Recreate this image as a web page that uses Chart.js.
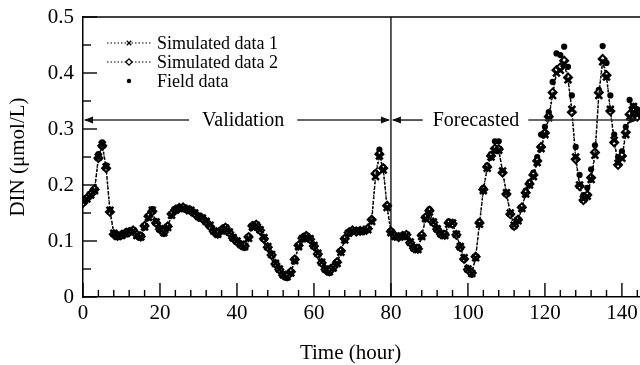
<!DOCTYPE html>
<html><head><meta charset="utf-8">
<script src="https://cdn.jsdelivr.net/npm/chart.js@4/dist/chart.umd.min.js"></script>
<style>html,body{margin:0;padding:0;background:#fff}#wrap{width:640px;height:365px}</style>
</head><body><div id="wrap"><canvas id="c" width="640" height="365"></canvas></div>
<script>
const hours = [0,1,2,3,4,5,6,7,8,9,10,11,12,13,14,15,16,17,18,19,20,21,22,23,24,25,26,27,28,29,30,31,32,33,34,35,36,37,38,39,40,41,42,43,44,45,46,47,48,49,50,51,52,53,54,55,56,57,58,59,60,61,62,63,64,65,66,67,68,69,70,71,72,73,74,75,76,77,78,79,80,81,82,83,84,85,86,87,88,89,90,91,92,93,94,95,96,97,98,99,100,101,102,103,104,105,106,107,108,109,110,111,112,113,114,115,116,117,118,119,120,121,122,123,124,125,126,127,128,129,130,131,132,133,134,135,136,137,138,139,140,141,142,143,144];
const sim1 = [
0.170,0.175,0.182,0.190,0.250,0.272,0.232,0.155,0.114,0.108,
0.110,0.113,0.117,0.118,0.110,0.107,0.125,0.142,0.155,0.134,
0.122,0.115,0.124,0.146,0.155,0.158,0.159,0.157,0.155,0.150,
0.144,0.141,0.135,0.128,0.118,0.112,0.118,0.123,0.116,0.106,
0.100,0.094,0.090,0.105,0.125,0.128,0.120,0.106,0.090,0.076,
0.060,0.050,0.040,0.036,0.043,0.065,0.090,0.104,0.108,0.104,
0.092,0.078,0.062,0.050,0.045,0.052,0.060,0.080,0.102,0.114,
0.118,0.118,0.117,0.118,0.120,0.135,0.215,0.252,0.227,0.160,
0.115,0.108,0.108,0.108,0.110,0.098,0.088,0.085,0.108,0.140,
0.152,0.134,0.122,0.113,0.110,0.130,0.132,0.112,0.090,0.070,
0.050,0.042,0.070,0.130,0.190,0.230,0.250,0.262,0.262,0.225,
0.186,0.150,0.128,0.136,0.158,0.184,0.200,0.215,0.240,0.265,
0.290,0.320,0.360,0.400,0.405,0.417,0.388,0.335,0.250,0.200,
0.175,0.180,0.210,0.253,0.360,0.420,0.393,0.335,0.280,0.239,
0.248,0.290,0.322,0.340,0.325];
const sim2 = [
0.168,0.176,0.183,0.192,0.248,0.270,0.230,0.152,0.112,0.109,
0.111,0.114,0.116,0.119,0.111,0.108,0.127,0.144,0.153,0.132,
0.121,0.116,0.126,0.148,0.156,0.159,0.160,0.156,0.154,0.149,
0.143,0.140,0.134,0.126,0.117,0.113,0.120,0.124,0.115,0.105,
0.099,0.093,0.091,0.107,0.127,0.129,0.119,0.104,0.089,0.075,
0.059,0.049,0.039,0.037,0.045,0.067,0.092,0.105,0.109,0.103,
0.091,0.077,0.061,0.049,0.046,0.053,0.062,0.082,0.104,0.115,
0.119,0.117,0.118,0.119,0.122,0.138,0.220,0.255,0.230,0.163,
0.117,0.109,0.107,0.109,0.111,0.097,0.087,0.086,0.110,0.142,
0.154,0.133,0.121,0.112,0.111,0.132,0.131,0.111,0.089,0.068,
0.049,0.043,0.072,0.132,0.192,0.232,0.252,0.265,0.264,0.222,
0.184,0.148,0.127,0.138,0.160,0.186,0.202,0.218,0.243,0.268,
0.293,0.322,0.365,0.405,0.410,0.422,0.392,0.330,0.246,0.198,
0.173,0.182,0.213,0.258,0.365,0.425,0.396,0.332,0.276,0.236,
0.252,0.294,0.326,0.338,0.322];
const field = [
0.172,0.176,0.185,0.193,0.255,0.276,0.235,0.156,0.113,0.110,
0.112,0.112,0.118,0.120,0.109,0.106,0.126,0.145,0.157,0.135,
0.121,0.113,0.125,0.148,0.157,0.160,0.161,0.158,0.156,0.151,
0.145,0.142,0.134,0.127,0.117,0.111,0.119,0.125,0.117,0.105,
0.099,0.092,0.088,0.106,0.127,0.130,0.121,0.105,0.089,0.074,
0.058,0.048,0.038,0.034,0.042,0.066,0.092,0.106,0.110,0.105,
0.091,0.076,0.060,0.048,0.043,0.051,0.061,0.082,0.104,0.116,
0.119,0.119,0.118,0.119,0.122,0.137,0.222,0.263,0.232,0.163,
0.116,0.107,0.109,0.107,0.111,0.097,0.086,0.084,0.110,0.143,
0.157,0.133,0.121,0.112,0.109,0.135,0.133,0.111,0.088,0.069,
0.048,0.040,0.072,0.135,0.195,0.235,0.255,0.278,0.278,0.222,
0.185,0.148,0.125,0.138,0.160,0.190,0.205,0.222,0.250,0.290,
0.304,0.330,0.384,0.435,0.432,0.447,0.411,0.360,0.268,0.218,
0.182,0.195,0.228,0.271,0.370,0.448,0.418,0.360,0.290,0.250,
0.260,0.304,0.352,0.340,0.335];
const xTicks = [0,20,40,60,80,100,120,140];
const yTicks = [0,0.1,0.2,0.3,0.4,0.5];
const seriesNames = ['Simulated data 1','Simulated data 2','Field data'];
const phaseNames = ['Validation','Forecasted'];
const phaseSplit = 80;
const xTitle = 'Time (hour)';
const yTitle = 'DIN (\u03bcmol/L)';

const SERIF = '"Liberation Serif","DejaVu Serif",serif';
const pts = arr => hours.map((h,i)=>({x:h,y:arr[i]}));

const styles = [
  {pointStyle:'crossRot', radius:4.8, dash:[3,2], bg:'#000', border:'#000', lineW:1.4, pW:2.5},
  {pointStyle:'rectRot', radius:4.0, dash:[1.2,1.8], bg:'#fff', border:'#000', lineW:1.3, pW:2.0},
  {pointStyle:'circle', radius:3.1, dash:[], bg:'#000', border:'#000', lineW:0, pW:0}
];

const decor = {
  id:'decor',
  afterDraw(chart){
    const ctx = chart.ctx, xs = chart.scales.x, ys = chart.scales.y, a = chart.chartArea;
    ctx.save();
    ctx.strokeStyle = '#000';
    ctx.lineWidth = 1.5;
    ctx.beginPath(); ctx.moveTo(a.left, a.top); ctx.lineTo(a.right, a.top); ctx.stroke();
    const xs80 = xs.getPixelForValue(phaseSplit);
    ctx.lineWidth = 1.3;
    ctx.beginPath(); ctx.moveTo(xs80, a.bottom); ctx.lineTo(xs80, a.top); ctx.stroke();
    ctx.lineWidth = 1.4;
    for (let v = 0; v <= 144; v += 4) {
      const px = xs.getPixelForValue(v);
      const len = (v % 20 === 0) ? 14 : 7;
      ctx.beginPath(); ctx.moveTo(px, a.bottom); ctx.lineTo(px, a.bottom - len); ctx.stroke();
    }
    for (let k = 0; k <= 10; k++) {
      const py = ys.getPixelForValue(k * 0.05);
      const len = (k % 2 === 0) ? 14 : 8;
      ctx.beginPath(); ctx.moveTo(a.left, py); ctx.lineTo(a.left + len, py); ctx.stroke();
    }
    const ay = ys.getPixelForValue(0.316);
    ctx.font = '20px ' + SERIF;
    ctx.fillStyle = '#000';
    ctx.textAlign = 'center'; ctx.textBaseline = 'middle';
    const arrowHead = (x, dir) => {
      ctx.beginPath(); ctx.moveTo(x, ay); ctx.lineTo(x + dir*9, ay - 3.5); ctx.lineTo(x + dir*9, ay + 3.5); ctx.closePath(); ctx.fill();
    };
    const seg = (x1, x2) => { ctx.beginPath(); ctx.moveTo(x1, ay); ctx.lineTo(x2, ay); ctx.stroke(); };
    ctx.strokeStyle = '#333'; ctx.lineWidth = 1.6;
    const vc = xs.getPixelForValue(41.6);
    const vw = ctx.measureText(phaseNames[0]).width;
    ctx.fillText(phaseNames[0], vc, ay + 1);
    seg(a.left + 2, vc - vw/2 - 13); seg(vc + vw/2 + 13, xs80 - 2);
    ctx.fillStyle = '#111';
    arrowHead(a.left + 1, 1); arrowHead(xs80 - 1, -1);
    ctx.fillStyle = '#000';
    const fc = xs.getPixelForValue(102.1);
    const fw = ctx.measureText(phaseNames[1]).width;
    ctx.fillText(phaseNames[1], fc, ay + 1);
    seg(xs80 + 2, fc - fw/2 - 10); seg(fc + fw/2 + 9, a.right - 3);
    ctx.fillStyle = '#111';
    arrowHead(xs80 + 1, 1); arrowHead(a.right - 2, -1);
    ctx.fillStyle = '#000';
    ctx.font = '18px ' + SERIF;
    ctx.textAlign = 'left';
    const rows = [43, 62, 81];
    for (let i = 0; i < 3; i++) {
      const st = styles[i], y = rows[i];
      if (i < 2) {
        ctx.save(); ctx.strokeStyle = '#000'; ctx.lineWidth = 1.2; ctx.setLineDash([1.5,2]);
        ctx.beginPath(); ctx.moveTo(107, y); ctx.lineTo(152, y); ctx.stroke(); ctx.restore();
      }
      ctx.save();
      ctx.fillStyle = st.bg; ctx.strokeStyle = st.border; ctx.lineWidth = i===2 ? 1 : 1.3;
      Chart.helpers.drawPoint(ctx, {pointStyle: st.pointStyle, radius: i===2 ? 2.2 : 3.2, rotation: 0, borderWidth: i===2?0:1.3}, 129, y);
      ctx.restore();
      ctx.fillStyle = '#000';
      ctx.fillText(seriesNames[i], 157, y + 1);
    }
    ctx.font = '21px ' + SERIF;
    ctx.textAlign = 'center';
    ctx.fillText(xTitle, xs.getPixelForValue(69.5), 353);
    ctx.save();
    ctx.translate(18, (a.top + a.bottom)/2);
    ctx.rotate(-Math.PI/2);
    ctx.fillText(yTitle, 0, 0);
    ctx.restore();
    ctx.restore();
  }
};

const datasets = [sim1, sim2, field].map((arr, i) => {
  const st = styles[i];
  return {
    label: seriesNames[i],
    data: pts(arr),
    borderColor: '#000',
    backgroundColor: st.bg,
    borderWidth: st.lineW,
    borderDash: st.dash,
    showLine: i < 2,
    pointStyle: st.pointStyle,
    pointRadius: st.radius,
    pointBackgroundColor: st.bg,
    pointBorderColor: st.border,
    pointBorderWidth: st.pW,
    tension: 0,
    fill: false
  };
});

new Chart(document.getElementById('c'), {
  type: 'line',
  data: { datasets },
  options: {
    responsive: false,
    animation: false,
    devicePixelRatio: 1,
    layout: { autoPadding: false, padding: { top: 17, right: 0, left: 0, bottom: 0 } },
    plugins: { legend: { display: false }, tooltip: { enabled: false } },
    scales: {
      x: {
        type: 'linear', min: 0, max: 144.7,
        afterBuildTicks: s => { s.ticks = xTicks.map(v => ({ value: v })); },
        afterFit: s => { s.height = 68; s.paddingRight = 0; s.paddingLeft = 0; },
        ticks: { color: '#000', font: { family: SERIF, size: 21 }, padding: 4, maxRotation: 0, autoSkip: false },
        grid: { display: true, drawOnChartArea: false, drawTicks: false },
        border: { color: '#000', width: 1.5 }
      },
      y: {
        type: 'linear', min: 0, max: 0.5,
        afterBuildTicks: s => { s.ticks = yTicks.map(v => ({ value: v })); },
        afterFit: s => { s.width = 83; s.paddingTop = 0; s.paddingBottom = 0; },
        ticks: { color: '#000', font: { family: SERIF, size: 21 }, padding: 9, callback: v => v === 0 ? '0' : v.toFixed(1) },
        grid: { display: true, drawOnChartArea: false, drawTicks: false },
        border: { color: '#000', width: 1.5 }
      }
    }
  },
  plugins: [decor]
});
</script></body></html>
